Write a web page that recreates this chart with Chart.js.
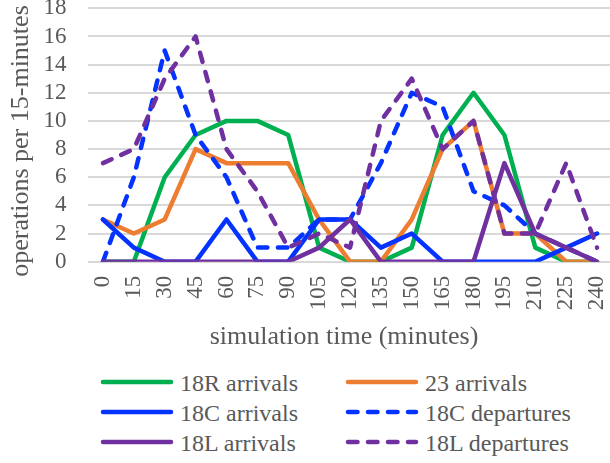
<!DOCTYPE html>
<html>
<head>
<meta charset="utf-8">
<script src="https://cdn.jsdelivr.net/npm/chart.js@4/dist/chart.umd.min.js"></script>
<style>
  html, body { margin: 0; padding: 0; background: #fff; overflow: hidden; }
  #wrap { position: relative; width: 610px; height: 463px; overflow: hidden; }
  #chart { position: absolute; left: 0; top: 0; }
  #legend {
    position: absolute; left: 100px; top: 368px;
    display: grid; grid-template-columns: 245px auto;
    font-family: "Liberation Serif", "Times New Roman", serif;
    font-size: 24px; color: #595959;
  }
  .item { display: flex; align-items: center; height: 30px; white-space: nowrap; }
  .item svg { margin-right: 6px; position: relative; top: -1px; }
</style>
</head>
<body>
<div id="wrap">
  <canvas id="chart" width="625" height="360"></canvas>
  <div id="legend"></div>
</div>
<script>
// 時刻 (分)
const times = ["0", "15", "30", "45", "60", "75", "90", "105", "120", "135",
  "150", "165", "180", "195", "210", "225", "240"];

const arr18R = [0, 0, 6, 9, 10, 10, 9, 1, 0, 0, 1, 9, 12, 9, 1, 0, 0];
const arr23 = [3, 2, 3, 8, 7, 7, 7, 3, 0, 0, 3, 8, 10, 2, 2, 0, 0];
const arr18C = [3, 1, 0, 0, 3, 0, 0, 3, 3, 1, 2, 0, 0, 0, 0, 1, 2];
const dep18C = [0, 6, 15, 9, 6, 1, 1, 3, 3, 7, 12, 11, 5, 4, 2, 1, 0];
const arr18L = [0, 0, 0, 0, 0, 0, 0, 1, 3, 0, 0, 0, 0, 7, 2, 1, 0];
const dep18L = [7, 8, 13, 16, 8, 5, 1, 2, 1, 10, 13, 8, 10, 2, 2, 7, 1];

const yTicks = [0, 2, 4, 6, 8, 10, 12, 14, 16, 18];

const GREEN = "#00B050", ORANGE = "#ED7D31", BLUE = "#0433FF", PURPLE = "#7030A0";
const DASH = [9.5, 10.5];
const TEXT = "#595959";
const FONT = "'Liberation Serif', 'Times New Roman', serif";

const series = [
  { label: "18R arrivals", data: arr18R, color: GREEN, dash: [] },
  { label: "23 arrivals", data: arr23, color: ORANGE, dash: [] },
  { label: "18C arrivals", data: arr18C, color: BLUE, dash: [] },
  { label: "18C departures", data: dep18C, color: BLUE, dash: DASH },
  { label: "18L arrivals", data: arr18L, color: PURPLE, dash: [] },
  { label: "18L departures", data: dep18L, color: PURPLE, dash: DASH },
];

const datasets = series.map((s, i) => ({
  label: s.label,
  data: s.data,
  borderColor: s.color,
  backgroundColor: s.color,
  borderWidth: 4.5,
  borderDash: s.dash,
  borderCapStyle: "round",
  borderJoinStyle: "round",
  pointRadius: 0,
  tension: 0,
  fill: false,
  order: series.length - i, // 後の系列を上に描く
}));

// 軸タイトル (Excel と同じ位置に置く)
const axisTitles = {
  id: "axisTitles",
  afterDraw(chart) {
    const ctx = chart.ctx;
    ctx.save();
    ctx.fillStyle = TEXT;
    ctx.font = "26px " + FONT;
    ctx.textAlign = "center";
    ctx.textBaseline = "middle";
    ctx.fillText("simulation time (minutes)", 344, 337);
    ctx.translate(21, 141);
    ctx.rotate(-Math.PI / 2);
    ctx.fillText("operations per 15-minutes", 0, 0);
    ctx.restore();
  },
};

new Chart(document.getElementById("chart").getContext("2d"), {
  type: "line",
  data: { labels: times, datasets },
  plugins: [axisTitles],
  options: {
    responsive: false,
    animation: false,
    layout: { padding: { top: 8.3, right: 12.5, left: 0, bottom: 0 } },
    plugins: { legend: { display: false }, tooltip: { enabled: false } },
    scales: {
      x: {
        offset: true,
        grid: { display: false, drawTicks: false },
        border: { display: false },
        ticks: {
          color: TEXT, font: { family: FONT, size: 23 },
          minRotation: 90, maxRotation: 90, padding: 14, autoSkip: false,
        },
        afterFit: (s) => { s.height = 360 - 261.7; s.paddingLeft = 0; s.paddingRight = 0; },
      },
      y: {
        min: 0, max: 18,
        grid: { color: "#D9D9D9", lineWidth: 2, drawTicks: false },
        border: { display: false },
        afterBuildTicks: (s) => { s.ticks = yTicks.map((v) => ({ value: v })); },
        ticks: { color: TEXT, font: { family: FONT, size: 23 }, padding: 21, autoSkip: false },
        afterFit: (s) => { s.width = 87.5; s.paddingTop = 0; s.paddingBottom = 0; },
      },
    },
  },
});

// 凡例 (2列)
const legend = document.getElementById("legend");
series.forEach((s) => {
  const item = document.createElement("div");
  item.className = "item";
  const dash = s.dash.length ? `stroke-dasharray="${s.dash.join(" ")}"` : "";
  item.innerHTML =
    `<svg width="74" height="10"><line x1="3" y1="5" x2="71" y2="5" stroke="${s.color}" ` +
    `stroke-width="4.5" stroke-linecap="round" ${dash}/></svg><span>${s.label}</span>`;
  legend.appendChild(item);
});
</script>
</body>
</html>
